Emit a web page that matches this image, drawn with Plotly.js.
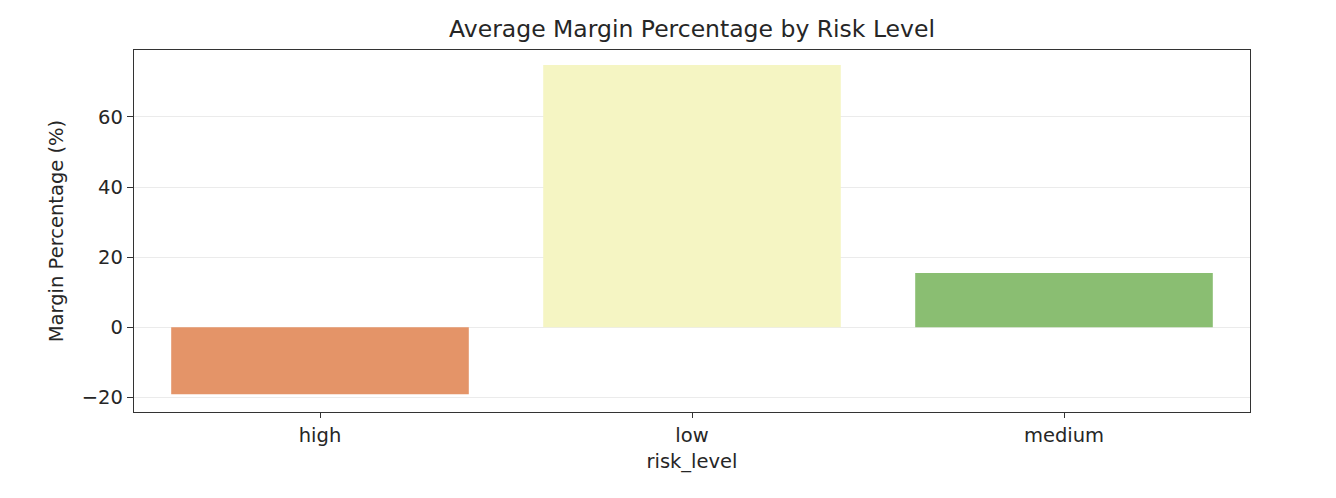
<!DOCTYPE html>
<html>
<head>
<meta charset="utf-8">
<script src="https://cdn.plot.ly/plotly-3.0.1.min.js"></script>
<style>
  html, body { margin: 0; padding: 0; background: #fff; }
  #chart { width: 1336px; height: 498px; }
</style>
</head>
<body>
<div id="chart"></div>
<script>
const riskLevels = ["high", "low", "medium"];
const marginPct = [-19.1, 74.8, 15.5];
const barColors = ["#e49468", "#f5f5c3", "#8abe72"];
const yTicks = [-20, 0, 20, 40, 60];

const FONT = "DejaVu Sans, sans-serif";

Plotly.newPlot("chart", [{
  x: riskLevels,
  y: marginPct,
  type: "bar",
  width: 0.8,
  marker: { color: barColors, line: { width: 0 } },
  hoverinfo: "x+y"
}], {
  width: 1336,
  height: 498,
  margin: { l: 134, r: 86, t: 50, b: 86 },
  paper_bgcolor: "#fff",
  plot_bgcolor: "#fff",
  showlegend: false,
  font: { family: FONT, color: "#262626", size: 19 },
  title: {
    text: "Average Margin Percentage by Risk Level",
    font: { family: FONT, size: 23.5, color: "#262626" },
    x: 0.518, xanchor: "center", y: 0.942, yanchor: "middle"
  },
  xaxis: {
    title: { text: "risk_level", font: { size: 19.5 }, standoff: 8 },
    range: [-0.5, 2.5],
    showgrid: false,
    showline: true, mirror: true, linecolor: "#333", linewidth: 1.3,
    ticks: "outside", ticklen: 5, tickcolor: "#333",
    tickfont: { size: 19.5 }
  },
  yaxis: {
    title: { text: "Margin Percentage (%)", font: { size: 19.5 }, standoff: 12 },
    range: [-24.2, 79.1],
    tickvals: yTicks,
    ticktext: yTicks.map(v => v < 0 ? "\u2212" + Math.abs(v) : String(v)),
    showgrid: true, gridcolor: "#ebebeb", gridwidth: 1,
    zeroline: false,
    showline: true, mirror: true, linecolor: "#333", linewidth: 1.3,
    ticks: "outside", ticklen: 6, tickcolor: "#333",
    tickfont: { size: 19.5 }
  }
}, { displayModeBar: false });
</script>
</body>
</html>
